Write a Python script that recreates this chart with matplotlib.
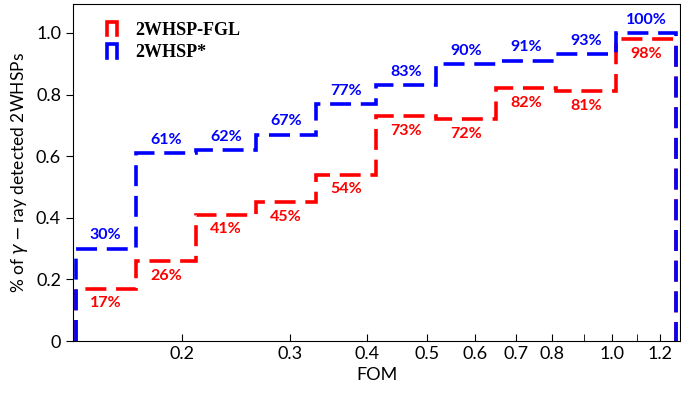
import numpy as np
import matplotlib
matplotlib.use("Agg")
import matplotlib.pyplot as plt
from matplotlib.lines import Line2D
from matplotlib.legend_handler import HandlerBase
from matplotlib.ticker import FixedLocator, FixedFormatter, NullFormatter

# FOM bin edges (log spaced)
edges = [0.1343, 0.1682, 0.2106, 0.2637, 0.3303, 0.4136,
         0.5179, 0.6486, 0.8122, 1.0171, 1.2737]

# fraction of gamma-ray detected sources per bin
frac_all = [0.30, 0.61, 0.62, 0.67, 0.77, 0.83, 0.90, 0.91, 0.93, 1.00]
frac_fgl = [0.17, 0.26, 0.41, 0.45, 0.54, 0.73, 0.72, 0.82, 0.81, 0.98]

major_ticks = [0.2, 0.3, 0.4, 0.5, 0.6, 0.7, 0.8, 1.0, 1.2]
minor_ticks = [0.9, 1.1]

plt.rcParams['font.family'] = ['Lato', 'DejaVu Sans']
plt.rcParams['mathtext.fontset'] = 'dejavusans'


# legend key drawn as a small open-bottom step outline
class StepHandler(HandlerBase):
    def create_artists(self, legend, orig_handle, xdescent, ydescent,
                       width, height, fontsize, trans):
        x0, x1 = -xdescent, -xdescent + width
        y0, y1 = -ydescent, -ydescent + height
        line = Line2D([x0, x0, x1, x1], [y0, y1, y1, y0],
                      color=orig_handle[0].get_edgecolor(), linewidth=2.6,
                      solid_joinstyle='miter', transform=trans)
        return [line]


fig = plt.figure(figsize=(6.81, 3.97), dpi=100)
ax = fig.add_axes([0.107, 0.141, 0.892, 0.849])

centers = np.sqrt(np.array(edges[:-1]) * np.array(edges[1:]))

# step histograms weighted by the fractions
_, _, p_fgl = ax.hist(centers, bins=edges, weights=frac_fgl, histtype='step',
                      color='red', linestyle=(0, (5.8, 2.7)), linewidth=2.6)
_, _, p_all = ax.hist(centers, bins=edges, weights=frac_all, histtype='step',
                      color='blue', linestyle=(0, (5.8, 2.7)), linewidth=2.6)

# percentage annotations
for c, v in zip(centers, frac_all):
    ax.text(c, v + 0.02, "{:.0f}%".format(v * 100), color='blue', fontsize=11.5,
            fontweight='bold', ha='center', va='bottom')
for c, v in zip(centers, frac_fgl):
    ax.text(c, v - 0.025, "{:.0f}%".format(v * 100), color='red', fontsize=11.5,
            fontweight='bold', ha='center', va='top')

ax.set_xscale('log')
ax.set_xlim(0.1329, 1.293)
ax.set_ylim(0, 1.094)

ax.xaxis.set_major_locator(FixedLocator(major_ticks))
ax.xaxis.set_major_formatter(FixedFormatter([str(t) for t in major_ticks]))
ax.xaxis.set_minor_locator(FixedLocator(minor_ticks))
ax.xaxis.set_minor_formatter(NullFormatter())
ax.tick_params(axis='x', which='both', direction='in', length=5, labelsize=13)

ax.set_yticks([0, 0.2, 0.4, 0.6, 0.8, 1.0])
ax.set_yticklabels(['0', '0.2', '0.4', '0.6', '0.8', '1.0'])
ax.tick_params(axis='y', direction='out', length=5, labelsize=13)

ax.set_xlabel('FOM', fontsize=13)
ax.set_ylabel(r'% of $\gamma-$ray detected 2WHSPs', fontsize=12.5)

leg = ax.legend([p_fgl, p_all], ['2WHSP-FGL', '2WHSP*'],
                handler_map={list: StepHandler()},
                loc='upper left', frameon=False, handlelength=0.55,
                handleheight=0.75, labelspacing=0.3, handletextpad=1.0,
                bbox_to_anchor=(0.03, 0.995),
                prop={'family': 'Liberation Serif', 'weight': 'bold', 'size': 13})

fig.savefig('out.png', dpi=100)
